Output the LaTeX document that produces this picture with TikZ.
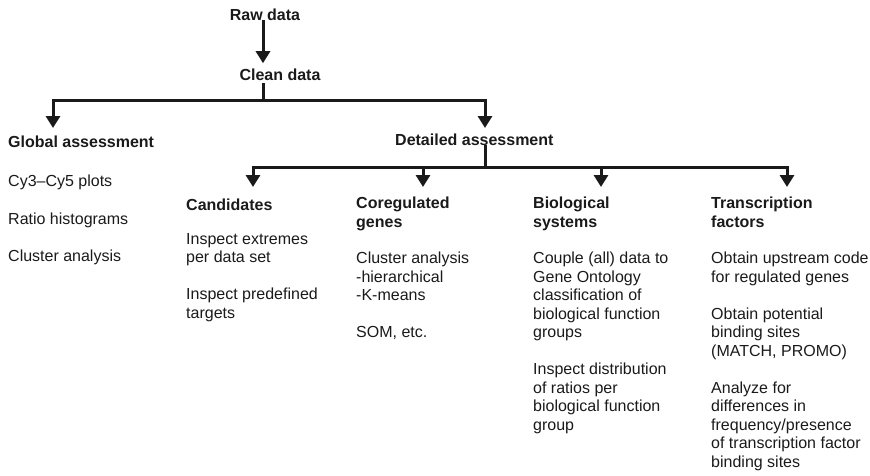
\documentclass[tikz,border=0pt]{standalone}
\usepackage{fontspec}
\setmainfont{Liberation Sans}
\usetikzlibrary{arrows.meta}
\definecolor{ink}{HTML}{1A1A1A}
\newcommand\firstline{\rule{0pt}{13pt}}

\begin{document}
\begin{tikzpicture}[x=1pt,y=-1pt,text=ink,
    every node/.style={inner sep=0pt,font=\fontsize{16}{18.5}\selectfont},
    title/.style={anchor=base,font=\fontsize{16}{18.5}\selectfont\bfseries},
    body/.style={anchor=north west,align=left,yshift=13pt,
      execute at begin node=\firstline},
    head/.style={body,font=\fontsize{16}{18.5}\selectfont\bfseries},
    wire/.style={draw=ink,line width=3pt},
    arr/.style={wire,-{Triangle[length=12pt,width=14pt]}}]
  \useasboundingbox (0,0) rectangle (870,475);

  % top of the tree
  \node[title] (raw) at (265,20) {Raw data};
  \node[title] (clean) at (280,80) {Clean data};
  \draw[arr,shorten >=5pt] ([xshift=-2pt]raw.south) -- ([xshift=-2pt]raw.south |- clean.north);

  \node[head] (glob) at (8,147) {Global assessment};
  \node[body] (globtxt) at (8,188)
    {Cy3--Cy5 plots\\[19pt]Ratio histograms\\[19pt]Cluster analysis};
  \node[head] (detail) at (395,145) {Detailed assessment};

  \coordinate (split1) at (263,100);
  \draw[wire,shorten <=3pt] (clean.south -| split1) -- (split1);
  \draw[arr,shorten >=6pt] (split1) -| ([xshift=45pt]glob.north west);
  \draw[arr,shorten >=4pt] (split1) -| ([xshift=90pt]detail.north west);

  % the four detailed branches
  \node[head] (cand) at (186,210) {Candidates};
  \node[body] (candtxt) at (186,246)
    {Inspect extremes\\per data set\\[18.5pt]Inspect predefined\\targets};

  \node[head] (coreg) at (356,210) {Coregulated\\genes};
  \node[body] (coregtxt) at (356,265)
    {Cluster analysis\\-hierarchical\\-K-means\\[18.5pt]SOM, etc.};

  \node[head] (bio) at (533,210) {Biological\\systems};
  \node[body] (biotxt) at (533,265)
    {Couple (all) data to\\Gene Ontology\\classification of\\biological function\\groups\\[18.5pt]
     Inspect distribution\\of ratios per\\biological function\\group};

  \node[head] (tf) at (711,210) {Transcription\\factors};
  \node[body] (tftxt) at (711,265)
    {Obtain upstream code\\for regulated genes\\[18.5pt]
     Obtain potential\\binding sites\\(MATCH, PROMO)\\[18.5pt]
     Analyze for\\differences in\\frequency/presence\\of transcription factor\\binding sites};

  \coordinate (split2) at (485,167);
  \draw[wire] ([xshift=90pt,yshift=-13pt]detail.north west) -- (split2);
  \draw[arr,shorten >=10pt] (split2) -| ([xshift=67pt]cand.north west);
  \draw[arr,shorten >=10pt] (split2) -| ([xshift=67pt]coreg.north west);
  \draw[arr,shorten >=10pt] (split2) -| ([xshift=68pt]bio.north west);
  \draw[arr,shorten >=10pt] (split2) -| ([xshift=76pt]tf.north west);
\end{tikzpicture}
\end{document}
